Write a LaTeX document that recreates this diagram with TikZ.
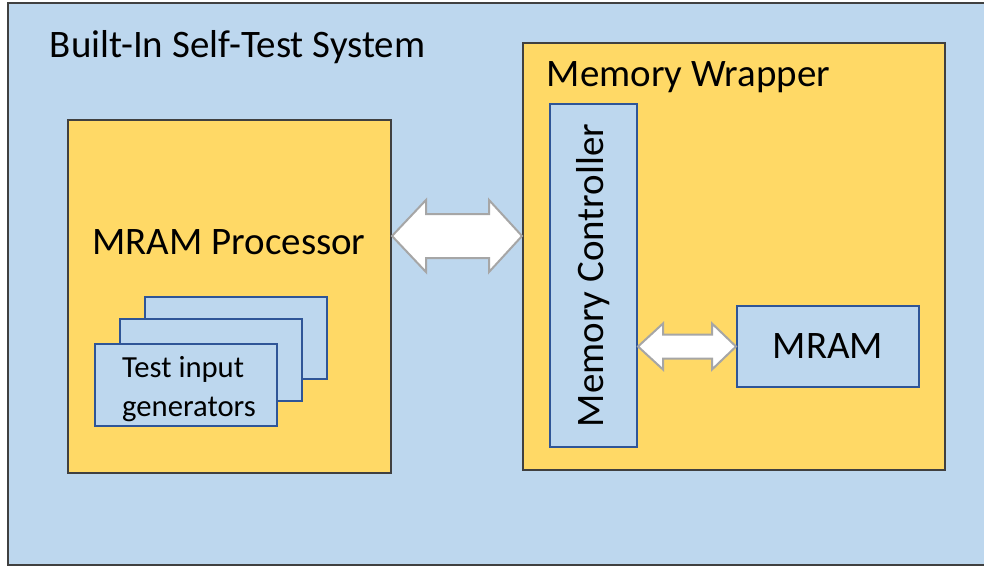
\documentclass[tikz,border=0pt]{standalone}
\usepackage{fontspec}
\setmainfont{Carlito}
\usetikzlibrary{calc}
\definecolor{bistblue}{HTML}{BDD7EE}
\definecolor{bistyellow}{HTML}{FFD966}
\definecolor{bistframe}{HTML}{404040}
\definecolor{bistnavy}{HTML}{2F5597}
\definecolor{bistgray}{HTML}{A6A6A6}
\tikzset{every picture/.style={line width=0.75pt}}
\begin{document}
\begin{tikzpicture}[x=0.75pt,y=0.75pt,yscale=-1,xscale=1,
	bigbox/.style={draw=bistframe,fill=bistyellow,line width=1.5pt,inner sep=0pt},
	bluebox/.style={draw=bistnavy,fill=bistblue,line width=1.5pt,inner sep=0pt},
	blockarrow/.style={draw=bistgray,fill=white,line width=1.5pt,line join=miter},
	bigfont/.style={font=\fontsize{29.2}{35}\selectfont},
	smallfont/.style={font=\fontsize{23}{29.5}\selectfont,align=left}]
	\useasboundingbox (0,0) rectangle (984,567);

	%Shape: Rectangle [id:system]
	\node[draw=bistframe,fill=bistblue,line width=1.5pt,inner sep=0pt,minimum width=738pt,minimum height=421.5pt] (sys) at (500,284) {};
	%Shape: Rectangle [id:processor]
	\node[bigbox,minimum width=242.25pt,minimum height=264.75pt] (proc) at (229.5,296.5) {};
	%Shape: Rectangle [id:wrapper]
	\node[bigbox,minimum width=316.5pt,minimum height=320.25pt] (wrap) at (734,256.5) {};
	%Shape: Rectangle [id:controller]
	\node[bluebox,minimum width=65.25pt,minimum height=257.25pt] (ctrl) at (593.5,275.5) {};
	%Shape: Rectangle [id:mram]
	\node[bluebox,minimum width=136.5pt,minimum height=60.75pt,bigfont] (mram) at (828,346.5) {MRAM};
	%Shape: Rectangle stack [id:generators]
	\node[bluebox,minimum width=136.5pt,minimum height=61.5pt] (genc) at (236,338) {};
	\node[bluebox,minimum width=136.5pt,minimum height=61.5pt] (genb) at (211,360) {};
	\node[bluebox,minimum width=136.5pt,minimum height=61.5pt] (gena) at (186,385) {};
	% Text Node
	\node[smallfont] (gentext) at (189,389) {Test input\\generators};

	%Block Arrow [id:bus]
	\coordinate (busL) at (proc.east |- 0,236);
	\coordinate (busR) at (wrap.west |- 0,236);
	\draw[blockarrow] (busL) -- ++(34,-36) -- ++(0,14) -- ($(busR)+(-33,-22)$) -- ++(0,-14) -- (busR) -- ++(-33,36) -- ++(0,-14) -- ($(busL)+(34,22)$) -- ++(0,14) -- cycle;
	%Block Arrow [id:link]
	\coordinate (linkL) at (ctrl.east |- mram.west);
	\draw[blockarrow] (linkL) -- ++(25,-23) -- ++(0,11) -- ($(mram.west)+(-24,-12)$) -- ++(0,-11) -- (mram.west) -- ++(-24,23) -- ++(0,-11) -- ($(linkL)+(25,12)$) -- ++(0,11) -- cycle;

	% Text Node
	\node[bigfont,anchor=west] (systitle) at (45,47) {Built-In Self-Test System};
	% Text Node
	\node[bigfont] (proctitle) at (229,242) {MRAM Processor};
	% Text Node
	\node[bigfont,anchor=west] (wraptitle) at (542,77) {Memory Wrapper};
	% Text Node
	\node[bigfont,rotate=90] (ctrltitle) at (ctrl.center) {Memory Controller};

\end{tikzpicture}
\end{document}
